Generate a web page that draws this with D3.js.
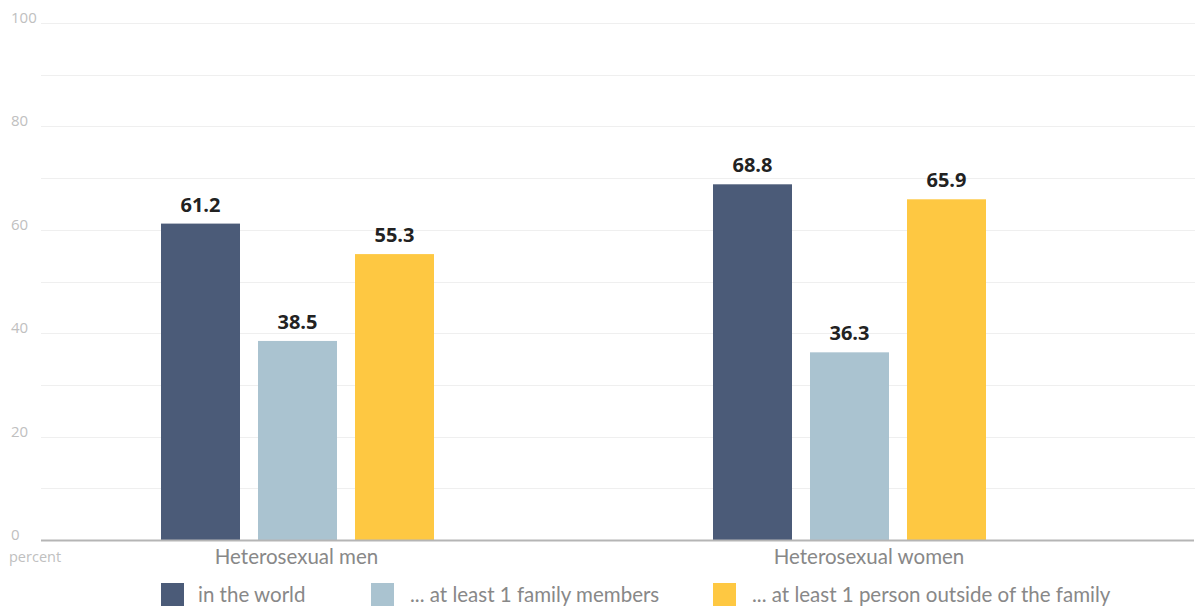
<!DOCTYPE html>
<html>
<head>
<meta charset="utf-8">
<script src="https://cdn.jsdelivr.net/npm/d3@7"></script>
<style>
  html, body { margin: 0; padding: 0; background: #fff; }
  svg { display: block; }
</style>
</head>
<body>
<svg id="chart" width="1195" height="608"></svg>
<script>
// Data
const categories = ["Heterosexual men", "Heterosexual women"];
const seriesNames = ["in the world", "... at least 1 family members", "... at least 1 person outside of the family"];
const inTheWorld = [61.2, 68.8];
const familyMembers = [38.5, 36.3];
const outsideFamily = [55.3, 65.9];
const yTicks = [0, 20, 40, 60, 80, 100];
const yUnit = "percent";

const seriesValues = [inTheWorld, familyMembers, outsideFamily];
const colors = ["#4b5b78", "#aac3d0", "#fec842"];

const svg = d3.select("#chart");
const plotLeft = 41, plotRight = 1195;
const y = d3.scaleLinear().domain([0, 100]).range([540, 23]);

// group positions and bars inside each group
const x0 = d3.scaleBand().domain(categories).range([21.5, 1125.5]).padding(0);
const groupWidth = 273;
const x1 = d3.scaleBand().domain(d3.range(seriesNames.length)).range([0, groupWidth]).paddingInner(0.1856).paddingOuter(0);
const groupStart = c => x0(c) + x0.bandwidth() / 2 - groupWidth / 2;

// label positions under the groups
const xLabel = d3.scalePoint().domain(categories).range([296.5, 869]);

// gridlines every 10
const grid = svg.append("g");
grid.selectAll("line")
  .data(d3.range(10, 101, 10))
  .join("line")
  .attr("x1", plotLeft).attr("x2", plotRight)
  .attr("y1", d => Math.round(y(d)) + 0.5).attr("y2", d => Math.round(y(d)) + 0.5)
  .attr("stroke", "#efefef").attr("stroke-width", 1);

// y tick labels
svg.append("g").selectAll("text")
  .data(yTicks)
  .join("text")
  .attr("x", 11)
  .attr("y", d => y(d) - 4)
  .attr("dominant-baseline", "middle")
  .attr("font-family", "Open Sans, sans-serif")
  .attr("font-size", 15)
  .attr("fill", "#c0c0c0")
  .text(d => d);

svg.append("text")
  .attr("x", 9).attr("y", 562)
  .attr("font-family", "Open Sans, sans-serif")
  .attr("font-size", 14.5)
  .attr("fill", "#c0c0c0")
  .text(yUnit);

// bars
const groups = svg.append("g").selectAll("g")
  .data(categories)
  .join("g")
  .attr("transform", c => `translate(${groupStart(c)},0)`);

groups.selectAll("rect")
  .data((c, ci) => seriesValues.map((vals, si) => ({ si, v: vals[ci] })))
  .join("rect")
  .attr("x", d => x1(d.si))
  .attr("width", x1.bandwidth())
  .attr("y", d => y(d.v))
  .attr("height", d => y(0) - y(d.v))
  .attr("fill", d => colors[d.si]);

groups.selectAll("text.val")
  .data((c, ci) => seriesValues.map((vals, si) => ({ si, v: vals[ci] })))
  .join("text")
  .attr("class", "val")
  .attr("x", d => x1(d.si) + x1.bandwidth() / 2)
  .attr("y", d => y(d.v) - 12)
  .attr("text-anchor", "middle")
  .attr("font-family", "Open Sans, sans-serif")
  .attr("font-weight", 700)
  .attr("font-size", 20)
  .attr("fill", "#222")
  .text(d => d.v.toFixed(1));

// baseline
svg.append("line")
  .attr("x1", plotLeft).attr("x2", plotRight - 1)
  .attr("y1", y(0) + 0.5).attr("y2", y(0) + 0.5)
  .attr("stroke", "#b5b5b5").attr("stroke-width", 2);

// category labels
svg.append("g").selectAll("text")
  .data(categories)
  .join("text")
  .attr("x", c => xLabel(c))
  .attr("y", 564)
  .attr("text-anchor", "middle")
  .attr("font-family", "Lato, sans-serif")
  .attr("font-size", 20.5)
  .attr("fill", "#888")
  .text(c => c);

// legend
const legendX = [161, 371, 713];
const legend = svg.append("g").selectAll("g")
  .data(seriesNames)
  .join("g")
  .attr("transform", (d, i) => `translate(${legendX[i]},583)`);
legend.append("rect")
  .attr("width", 23).attr("height", 23)
  .attr("fill", (d, i) => colors[i]);
legend.append("text")
  .attr("x", (d, i) => i === 0 ? 37 : 39)
  .attr("y", 19)
  .attr("font-family", "Lato, sans-serif")
  .attr("font-size", 20.5)
  .attr("fill", "#888")
  .text(d => d);
</script>
</body>
</html>
